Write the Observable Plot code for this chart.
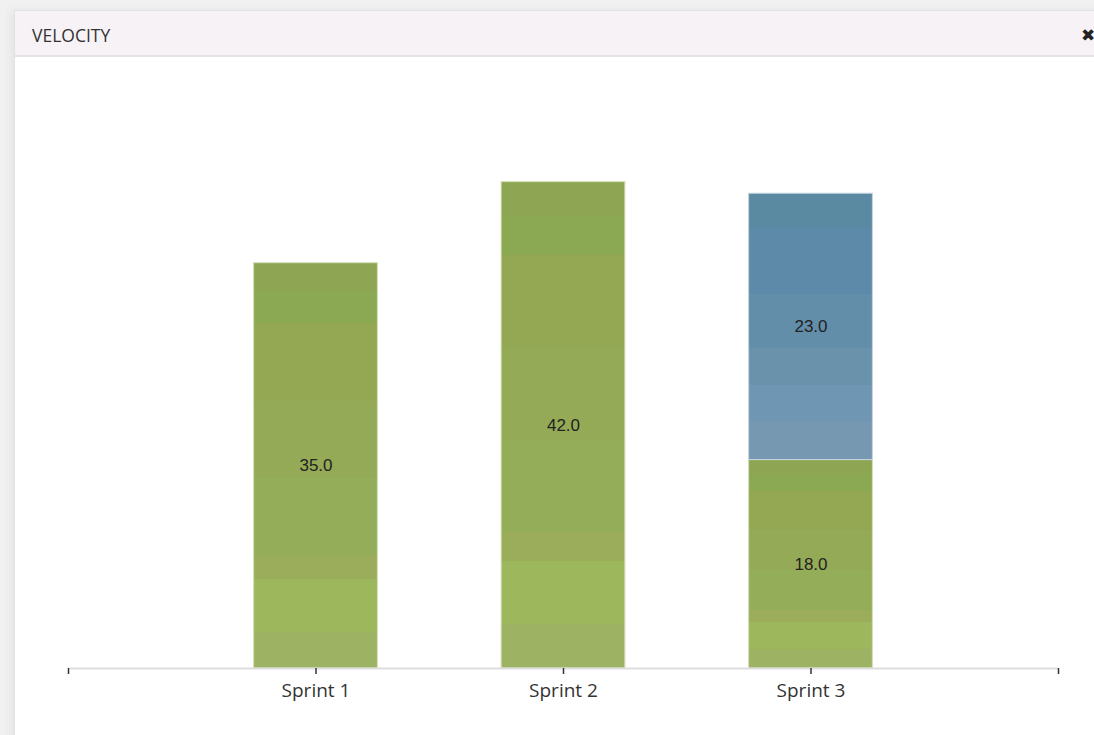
<!DOCTYPE html>
<html><head><meta charset="utf-8">
<script src="https://cdn.jsdelivr.net/npm/d3@7"></script>
<script src="https://cdn.jsdelivr.net/npm/@observablehq/plot@0.6"></script>
<style>
body{margin:0;width:1094px;height:735px;overflow:hidden;background:#f1f1f1;font-family:"Open Sans",sans-serif;position:relative;}
#panel{position:absolute;left:14px;top:10px;width:1100px;height:740px;background:#fff;border:1px solid #e2e2e2;box-shadow:-4px 0 8px rgba(0,0,0,0.05);}
#header{height:44px;background:#f7f2f6;border-bottom:2px solid #e6e3e6;position:relative;}
#title{position:absolute;left:17px;top:15px;font-size:17.5px;line-height:18px;color:#333;}
#close{position:absolute;left:1066px;top:16px;font-family:"DejaVu Sans",sans-serif;font-size:17px;line-height:17px;font-weight:bold;color:#222;}
#chart{position:absolute;left:0;top:56px;}
</style>
</head><body>
<div id="panel"><div id="header"><div id="title">VELOCITY</div><div id="close">✖</div></div></div>
<div id="chart"></div>
<script>
const sprints = ["Sprint 1", "Sprint 2", "Sprint 3"];
const completed = [35, 42, 18];
const added = [0, 0, 23];

const rows = [];
sprints.forEach((s, i) => {
  rows.push({sprint: s, pos: i + 1, type: "completed", value: completed[i], y1: 0, y2: completed[i]});
  if (added[i] > 0) rows.push({sprint: s, pos: i + 1, type: "added", value: added[i], y1: completed[i], y2: completed[i] + added[i]});
});

const plot = Plot.plot({
  width: 1094,
  height: 679,
  marginLeft: 68,
  marginRight: 36,
  marginTop: 33,
  marginBottom: 67,
  style: {background: "transparent", overflow: "visible"},
  x: {domain: [0, 4], axis: null},
  y: {domain: [0, 50], axis: null},
  marks: [
    Plot.rectY(rows.filter(d => d.type === "completed"), {
      x1: d => d.pos - 0.25, x2: d => d.pos + 0.25, y1: "y1", y2: "y2",
      fill: "url(#gGreen)", stroke: "#d2dfb6", strokeWidth: 1
    }),
    Plot.rectY(rows.filter(d => d.type === "added"), {
      x1: d => d.pos - 0.25, x2: d => d.pos + 0.25, y1: "y1", y2: "y2",
      fill: "url(#gBlue)", stroke: "#c4d4e0", strokeWidth: 1
    }),
    Plot.ruleY([0], {stroke: "#dddddd", strokeWidth: 2}),
    Plot.text(rows, {
      x: "pos", y: d => (d.y1 + d.y2) / 2, text: d => d.value.toFixed(1),
      fontSize: 17, fill: "#222", fontFamily: "Liberation Sans, Arial, sans-serif"
    }),
    Plot.axisX({
      ticks: [0, 1, 2, 3, 4],
      tickFormat: i => sprints[i - 1] ?? "",
      label: null,
      tickSize: 6, tickPadding: 9, fontSize: 19, color: "#333", strokeWidth: 1.5,
      fontFamily: "Open Sans, sans-serif"
    })
  ]
});

const svg = d3.select(plot);
const defs = svg.insert("defs", ":first-child");
function bands(id, list) {
  const g = defs.append("linearGradient").attr("id", id)
    .attr("x1", 0).attr("y1", 0).attr("x2", 0).attr("y2", 1);
  list.forEach(([a, b, c]) => {
    g.append("stop").attr("offset", a).attr("stop-color", c);
    g.append("stop").attr("offset", b).attr("stop-color", c);
  });
}
bands("gGreen", [
  [0, 0.07, "#8ea553"], [0.07, 0.15, "#8ba853"], [0.15, 0.34, "#94a853"],
  [0.34, 0.53, "#95aa56"], [0.53, 0.72, "#93ad59"], [0.72, 0.78, "#9bad5a"],
  [0.78, 0.91, "#9cb75c"], [0.91, 1, "#9db263"]
]);
bands("gBlue", [
  [0, 0.13, "#5a8aa2"], [0.13, 0.38, "#5e8aa9"], [0.38, 0.58, "#628ea9"],
  [0.58, 0.72, "#6a92ab"], [0.72, 0.86, "#6f96b3"], [0.86, 1, "#7798b1"]
]);

document.getElementById("chart").appendChild(plot);
</script>
</body></html>
